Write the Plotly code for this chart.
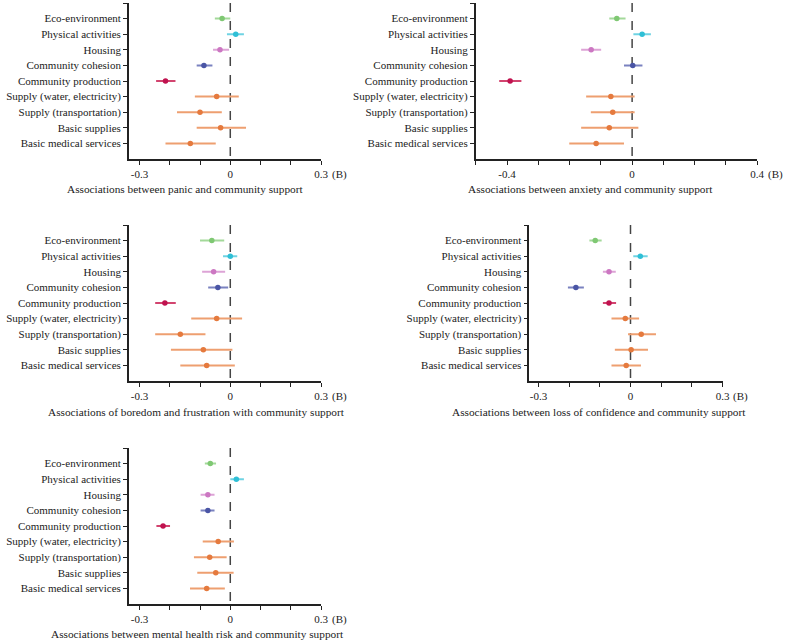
import plotly.graph_objects as go

W, H = 789, 644

categories = ["Eco-environment", "Physical activities", "Housing", "Community cohesion",
              "Community production", "Supply (water, electricity)", "Supply (transportation)",
              "Basic supplies", "Basic medical services"]

marker_colors = ["#7fc873", "#2fbfd6", "#cc77c2", "#4a55a5", "#c0124f",
                 "#e57a3e", "#e57a3e", "#e57a3e", "#e57a3e"]
bar_colors = ["#a3d99a", "#6fd3e3", "#dda3d6", "#7a82c0", "#d2446f",
              "#ee9f70", "#ee9f70", "#ee9f70", "#ee9f70"]

titles = ["Associations between panic and community support",
          "Associations between anxiety and community support",
          "Associations of boredom and frustration with community support",
          "Associations between loss of confidence and community support",
          "Associations between mental health risk and community support"]

# estimates (B), lower CI, upper CI
panic_b = [-0.027, 0.018, -0.034, -0.087, -0.214, -0.045, -0.100, -0.032, -0.132]
panic_lo = [-0.051, -0.011, -0.057, -0.111, -0.245, -0.117, -0.176, -0.111, -0.214]
panic_hi = [0.000, 0.045, -0.004, -0.059, -0.181, 0.028, -0.028, 0.052, -0.048]

anx_b = [-0.049, 0.032, -0.131, 0.002, -0.390, -0.068, -0.062, -0.073, -0.115]
anx_lo = [-0.073, 0.004, -0.163, -0.026, -0.425, -0.147, -0.132, -0.163, -0.201]
anx_hi = [-0.021, 0.060, -0.099, 0.033, -0.354, 0.008, 0.008, 0.020, -0.026]

bor_b = [-0.061, 0.000, -0.055, -0.041, -0.216, -0.045, -0.165, -0.089, -0.078]
bor_lo = [-0.100, -0.024, -0.093, -0.073, -0.248, -0.129, -0.248, -0.196, -0.165]
bor_hi = [-0.020, 0.023, -0.017, -0.007, -0.180, 0.039, -0.082, 0.007, 0.015]

conf_b = [-0.115, 0.032, -0.070, -0.178, -0.070, -0.017, 0.035, 0.002, -0.014]
conf_lo = [-0.134, 0.009, -0.090, -0.204, -0.090, -0.062, -0.008, -0.051, -0.062]
conf_hi = [-0.094, 0.056, -0.048, -0.152, -0.047, 0.028, 0.083, 0.057, 0.034]

mh_b = [-0.066, 0.020, -0.074, -0.074, -0.222, -0.040, -0.068, -0.048, -0.078]
mh_lo = [-0.084, 0.000, -0.098, -0.098, -0.244, -0.091, -0.120, -0.109, -0.133]
mh_hi = [-0.047, 0.045, -0.052, -0.052, -0.199, 0.012, -0.012, 0.011, -0.018]

panels = [
    dict(b=panic_b, lo=panic_lo, hi=panic_hi, xr=[-0.335, 0.3], tmin=-0.3, lab=[-0.3, 0, 0.3],
         px=(130, 324), py=(3, 159), tc=187, ty=189),
    dict(b=anx_b, lo=anx_lo, hi=anx_hi, xr=[-0.5, 0.4], tmin=-0.5, lab=[-0.4, 0, 0.4],
         px=(480, 764), py=(3, 159), tc=596, ty=189),
    dict(b=bor_b, lo=bor_lo, hi=bor_hi, xr=[-0.335, 0.3], tmin=-0.3, lab=[-0.3, 0, 0.3],
         px=(130, 324), py=(225, 381), tc=198, ty=412),
    dict(b=conf_b, lo=conf_lo, hi=conf_hi, xr=[-0.33, 0.3], tmin=-0.3, lab=[-0.3, 0, 0.3],
         px=(534, 729), py=(225, 381), tc=604, ty=412),
    dict(b=mh_b, lo=mh_lo, hi=mh_hi, xr=[-0.335, 0.3], tmin=-0.3, lab=[-0.3, 0, 0.3],
         px=(130, 324), py=(448, 604), tc=199, ty=634),
]

FONT = "Liberation Serif"
fig = go.Figure()
layout = dict(width=W, height=H, margin=dict(l=0, r=0, t=0, b=0),
              plot_bgcolor="white", paper_bgcolor="white", showlegend=False,
              font=dict(family=FONT, size=11, color="#222"))
annotations = []
shapes = []

for i, p in enumerate(panels):
    k = i + 1
    xa = "x" if k == 1 else f"x{k}"
    ya = "y" if k == 1 else f"y{k}"
    ys = list(range(len(categories)))
    for j in range(len(categories)):
        fig.add_trace(go.Scatter(
            x=[p["b"][j]], y=[ys[j]], mode="markers",
            marker=dict(color=marker_colors[j], size=5.5),
            error_x=dict(type="data", symmetric=False,
                         array=[p["hi"][j] - p["b"][j]],
                         arrayminus=[p["b"][j] - p["lo"][j]],
                         color=bar_colors[j], thickness=2, width=0),
            xaxis=xa, yaxis=ya, hoverinfo="skip"))
    tvals = []
    t = p["tmin"]
    while t <= p["xr"][1] + 1e-9:
        tvals.append(round(t, 1))
        t += 0.1
    ttext = []
    for v in tvals:
        if any(abs(v - l) < 1e-9 for l in p["lab"]):
            ttext.append("0" if abs(v) < 1e-9 else f"{v:g}")
        else:
            ttext.append("")
    x0, x1 = p["px"]
    y0, y1 = p["py"]
    layout["xaxis" + ("" if k == 1 else str(k))] = dict(
        domain=[x0 / W, x1 / W], range=p["xr"], anchor=ya,
        tickvals=tvals, ticktext=ttext, ticks="outside", ticklen=4, tickwidth=1.2,
        tickcolor="#222", showline=True, linecolor="#222", linewidth=1.5,
        showgrid=False, zeroline=False, tickfont=dict(family=FONT, size=11, color="#222"))
    layout["yaxis" + ("" if k == 1 else str(k))] = dict(
        domain=[1 - y1 / H, 1 - y0 / H], range=[9, -1], anchor=xa,
        tickvals=[-1] + ys, ticktext=[""] + categories, ticks="outside", ticklen=4,
        tickwidth=1.2, tickcolor="#222", showline=True, linecolor="#222", linewidth=1.5,
        showgrid=False, zeroline=False, tickfont=dict(family=FONT, size=11, color="#222"))
    shapes.append(dict(type="line", xref=xa, yref=ya, x0=0, x1=0, y0=-1, y1=9,
                       line=dict(color="#444", width=1.5, dash="dash"), layer="below"))
    annotations.append(dict(xref="paper", yref="paper", x=(x1 + 9) / W, y=1 - (y1 + 15) / H,
                            text="(B)", showarrow=False, xanchor="left", yanchor="middle",
                            font=dict(family=FONT, size=11, color="#222")))
    annotations.append(dict(xref="paper", yref="paper", x=p["tc"] / W, y=1 - p["ty"] / H,
                            text=titles[i], showarrow=False, xanchor="center", yanchor="middle",
                            font=dict(family=FONT, size=11.3, color="#222")))

layout["annotations"] = annotations
layout["shapes"] = shapes
fig.update_layout(**layout)
fig.write_html("out.html", config={"displayModeBar": False},
               post_script="document.body.style.margin='0';document.body.style.overflow='hidden';")
